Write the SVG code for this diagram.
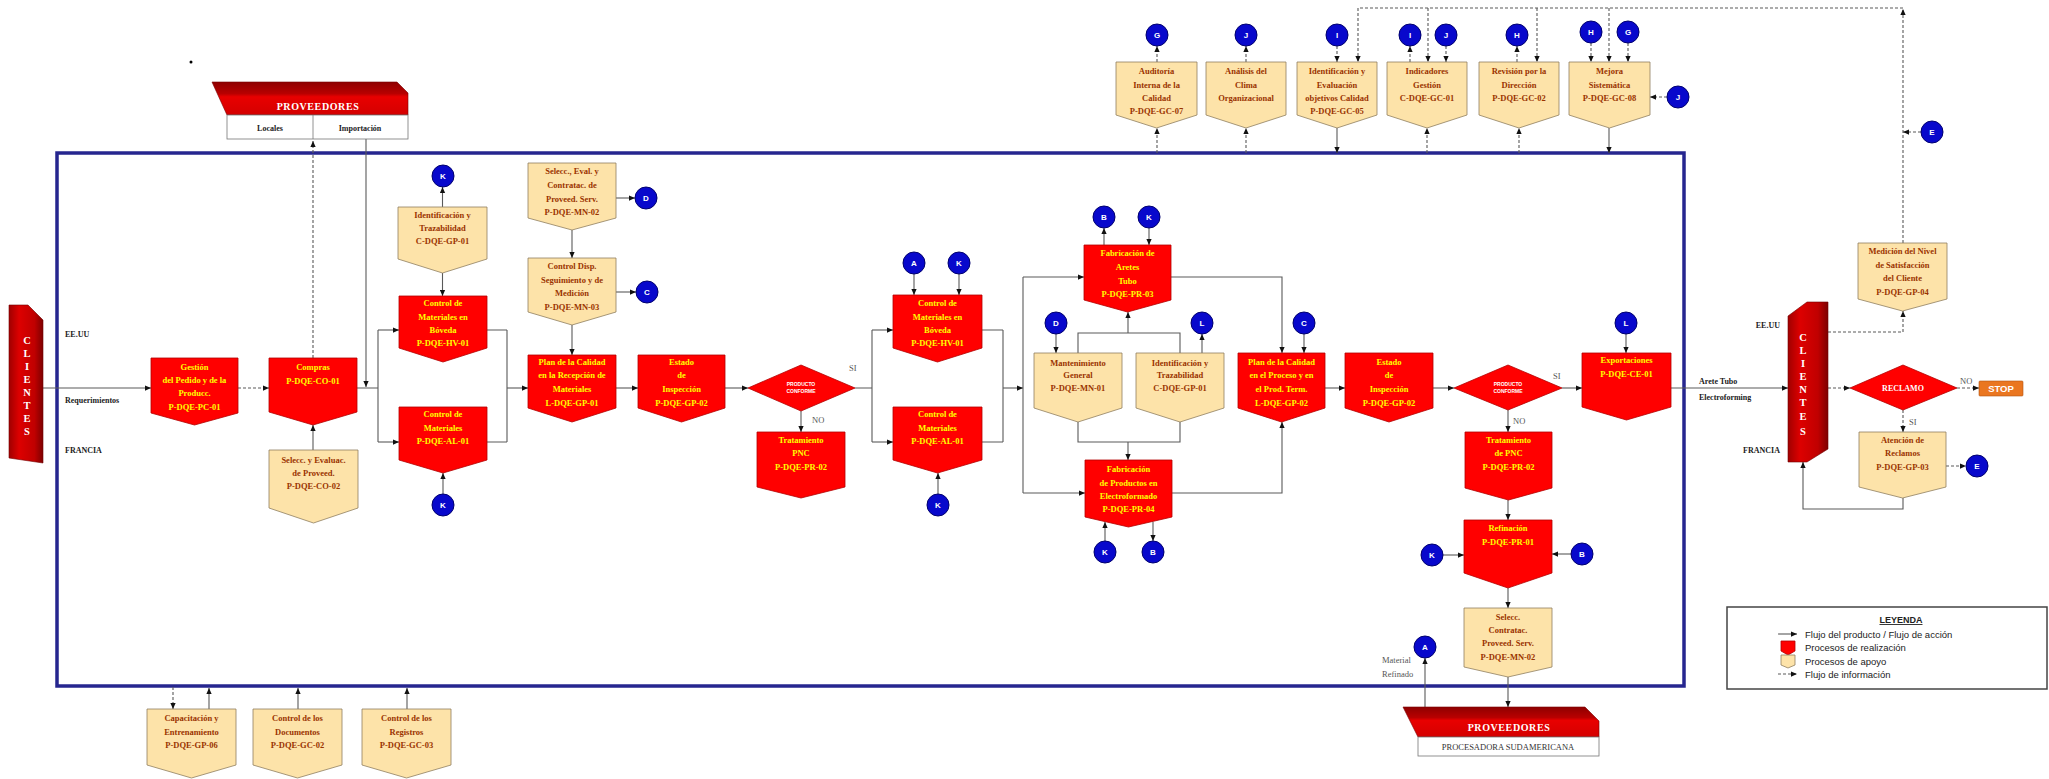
<svg xmlns="http://www.w3.org/2000/svg" width="2049" height="779" viewBox="0 0 2049 779">
  <defs>
    <style>
      .rp { fill:#ff0000; stroke:#b30000; stroke-width:0.8; }
      .sp { fill:#fde3a9; stroke:#8f7f60; stroke-width:0.8; }
      .rt { font-family:"Liberation Serif","Times New Roman",serif; font-weight:bold; font-size:8.5px; fill:#ffff00; text-anchor:middle; }
      .st { font-family:"Liberation Serif","Times New Roman",serif; font-weight:bold; font-size:8.5px; fill:#9a3300; text-anchor:middle; }
      .sm { font-family:"Liberation Sans",Arial,sans-serif; font-weight:bold; font-size:5px; fill:#ffffff; text-anchor:middle; }
      .cir { fill:#0808cc; stroke:#00006e; stroke-width:1; }
      .ct { font-family:"Liberation Sans",Arial,sans-serif; font-weight:bold; font-size:8px; fill:#ffffff; text-anchor:middle; }
      .ln { fill:none; stroke:#5a5a5a; stroke-width:1.1; }
      .dl { fill:none; stroke:#5a5a5a; stroke-width:1.1; stroke-dasharray:3 2; }
      .lb { font-family:"Liberation Serif","Times New Roman",serif; font-weight:bold; font-size:8px; fill:#222222; }
      .yn { font-family:"Liberation Serif","Times New Roman",serif; font-size:8.5px; fill:#555555; }
      .cl { font-family:"Liberation Serif","Times New Roman",serif; font-weight:bold; font-size:10.5px; fill:#ffffff; text-anchor:middle; }
      .pv { font-family:"Liberation Serif","Times New Roman",serif; font-weight:bold; font-size:10px; letter-spacing:0.6px; fill:#ffffff; text-anchor:middle; }
      .lg { font-family:"Liberation Sans",Arial,sans-serif; font-size:9.5px; fill:#222222; }
    </style>
    <marker id="ah" viewBox="0 0 8 8" refX="8" refY="4" markerWidth="6" markerHeight="6" markerUnits="userSpaceOnUse" orient="auto">
      <path d="M0,0.5 L8,4 L0,7.5Z" fill="#111111"/>
    </marker>
    <linearGradient id="provGrad" x1="0" y1="0" x2="0" y2="1">
      <stop offset="0" stop-color="#8e0000"/>
      <stop offset="0.35" stop-color="#b80000"/>
      <stop offset="0.45" stop-color="#e80000"/>
      <stop offset="1" stop-color="#d40000"/>
    </linearGradient>
    <linearGradient id="cliGrad" x1="0" y1="0" x2="1" y2="0">
      <stop offset="0" stop-color="#a00000"/>
      <stop offset="0.3" stop-color="#dd0000"/>
      <stop offset="0.75" stop-color="#c00000"/>
      <stop offset="1" stop-color="#7e0000"/>
    </linearGradient>
  </defs>

  <rect width="2049" height="779" fill="#ffffff"/>
  <circle cx="191" cy="62" r="1.5" fill="#000000"/>

  <!-- process boundary -->
  <rect id="frame" x="57" y="153" width="1627" height="533" fill="none" stroke="#26268f" stroke-width="3.5"/>

  <!-- connectors -->
  <g id="connectors">
    <!-- suppliers / purchasing -->
    <path class="dl" d="M313 358 V141" marker-end="url(#ah)"/>
    <path class="ln" d="M366 139 V387" marker-end="url(#ah)"/>
    <path class="ln" d="M43 388 H151" marker-end="url(#ah)"/>
    <path class="dl" d="M238 388 H269" marker-end="url(#ah)"/>
    <path class="ln" d="M313 450 V425" marker-end="url(#ah)"/>
    <path class="ln" d="M357 388 H378 M378 330 V442"/>
    <path class="ln" d="M378 330 H399" marker-end="url(#ah)"/>
    <path class="ln" d="M378 442 H399" marker-end="url(#ah)"/>
    <path class="ln" d="M442.5 273 V296" marker-end="url(#ah)"/>
    <path class="ln" d="M442.5 207 V187" marker-end="url(#ah)"/>
    <path class="ln" d="M443 494 V473" marker-end="url(#ah)"/>
    <path class="ln" d="M487 330 H507 M487 442 H507 M507 330 V442"/>
    <path class="ln" d="M507 388 H528" marker-end="url(#ah)"/>
    <!-- reception -->
    <path class="ln" d="M616 198 H635" marker-end="url(#ah)"/>
    <path class="ln" d="M572 230 V258" marker-end="url(#ah)"/>
    <path class="ln" d="M616 292 H636" marker-end="url(#ah)"/>
    <path class="ln" d="M572 325 V355" marker-end="url(#ah)"/>
    <path class="ln" d="M616 388 H638" marker-end="url(#ah)"/>
    <path class="ln" d="M725 388 H748" marker-end="url(#ah)"/>
    <path class="ln" d="M801 411 V432" marker-end="url(#ah)"/>
    <path class="ln" d="M855 388 H872 M872 330 V442"/>
    <path class="ln" d="M872 330 H893" marker-end="url(#ah)"/>
    <path class="ln" d="M872 442 H893" marker-end="url(#ah)"/>
    <path class="ln" d="M914 274 V295" marker-end="url(#ah)"/>
    <path class="ln" d="M959 274 V295" marker-end="url(#ah)"/>
    <path class="ln" d="M938 494 V473" marker-end="url(#ah)"/>
    <path class="ln" d="M982 330 H1003 M982 442 H1003 M1003 330 V442"/>
    <path class="ln" d="M1003 388 H1023" marker-end="url(#ah)"/>
    <!-- manufacturing -->
    <path class="ln" d="M1023 277 V493"/>
    <path class="ln" d="M1023 277 H1084" marker-end="url(#ah)"/>
    <path class="ln" d="M1023 493 H1085" marker-end="url(#ah)"/>
    <path class="ln" d="M1104 245 V228" marker-end="url(#ah)"/>
    <path class="ln" d="M1149 228 V245" marker-end="url(#ah)"/>
    <path class="ln" d="M1056 334 V353" marker-end="url(#ah)"/>
    <path class="ln" d="M1202 353 V334" marker-end="url(#ah)"/>
    <path class="ln" d="M1078 353 V333 H1180 V353"/>
    <path class="ln" d="M1128 333 V312" marker-end="url(#ah)"/>
    <path class="ln" d="M1078 422 V442 H1180 V422"/>
    <path class="ln" d="M1128 442 V460" marker-end="url(#ah)"/>
    <path class="ln" d="M1105 541 V522" marker-end="url(#ah)"/>
    <path class="ln" d="M1153 522 V541" marker-end="url(#ah)"/>
    <path class="ln" d="M1171 277 H1282 V353" marker-end="url(#ah)"/>
    <path class="ln" d="M1172 493 H1282 V422" marker-end="url(#ah)"/>
    <path class="ln" d="M1304 334 V353" marker-end="url(#ah)"/>
    <!-- final inspection -->
    <path class="ln" d="M1325 388 H1345" marker-end="url(#ah)"/>
    <path class="ln" d="M1433 388 H1454" marker-end="url(#ah)"/>
    <path class="ln" d="M1562 388 H1582" marker-end="url(#ah)"/>
    <path class="ln" d="M1508 410 V432" marker-end="url(#ah)"/>
    <path class="ln" d="M1508 500 V520" marker-end="url(#ah)"/>
    <path class="ln" d="M1443 555 H1464" marker-end="url(#ah)"/>
    <path class="ln" d="M1571 554 H1552" marker-end="url(#ah)"/>
    <path class="ln" d="M1508 588 V608" marker-end="url(#ah)"/>
    <path class="ln" d="M1508 677 V707" marker-end="url(#ah)"/>
    <path class="ln" d="M1425 707 V658" marker-end="url(#ah)"/>
    <path class="ln" d="M1626 334 V353" marker-end="url(#ah)"/>
    <!-- customers -->
    <path class="ln" d="M1671 388 H1788" marker-end="url(#ah)"/>
    <path class="dl" d="M1828 332 H1903 V311" marker-end="url(#ah)"/>
    <path class="dl" d="M1828 388 H1850" marker-end="url(#ah)"/>
    <path class="dl" d="M1957 388 H1979" marker-end="url(#ah)"/>
    <path class="dl" d="M1903 410 V432" marker-end="url(#ah)"/>
    <path class="dl" d="M1946 466 H1966" marker-end="url(#ah)"/>
    <path class="ln" d="M1903 498 V509 H1803 V462" marker-end="url(#ah)"/>
    <!-- information flow to management -->
    <path class="dl" d="M1903 243 V9" marker-end="url(#ah)"/>
    <path class="dl" d="M1903 8 H1358"/>
    <path class="dl" d="M1921 132 H1903" marker-end="url(#ah)"/>
    <path class="dl" d="M1358 8 V62" marker-end="url(#ah)"/>
    <path class="dl" d="M1428 8 V62" marker-end="url(#ah)"/>
    <path class="dl" d="M1537 8 V62" marker-end="url(#ah)"/>
    <path class="dl" d="M1609 8 V62" marker-end="url(#ah)"/>
    <path class="dl" d="M1157 62 V46" marker-end="url(#ah)"/>
    <path class="dl" d="M1157 153 V128" marker-end="url(#ah)"/>
    <path class="dl" d="M1246 62 V46" marker-end="url(#ah)"/>
    <path class="dl" d="M1246 153 V128" marker-end="url(#ah)"/>
    <path class="dl" d="M1337 46 V62" marker-end="url(#ah)"/>
    <path class="ln" d="M1337 128 V153" marker-end="url(#ah)"/>
    <path class="dl" d="M1410 62 V46" marker-end="url(#ah)"/>
    <path class="dl" d="M1446 46 V62" marker-end="url(#ah)"/>
    <path class="dl" d="M1427 153 V128" marker-end="url(#ah)"/>
    <path class="dl" d="M1517 62 V46" marker-end="url(#ah)"/>
    <path class="dl" d="M1519 153 V128" marker-end="url(#ah)"/>
    <path class="dl" d="M1591 43 V62" marker-end="url(#ah)"/>
    <path class="dl" d="M1628 43 V62" marker-end="url(#ah)"/>
    <path class="dl" d="M1667 97 H1650" marker-end="url(#ah)"/>
    <path class="ln" d="M1609 128 V153" marker-end="url(#ah)"/>
    <!-- bottom support -->
    <path class="dl" d="M173 687 V709" marker-end="url(#ah)"/>
    <path class="ln" d="M209 709 V688" marker-end="url(#ah)"/>
    <path class="ln" d="M298 709 V688" marker-end="url(#ah)"/>
    <path class="ln" d="M407 709 V688" marker-end="url(#ah)"/>
  </g>

  <!-- flow labels -->
  <g id="flow-labels">
    <text class="yn" x="849" y="371">SI</text>
    <text class="yn" x="812" y="423">NO</text>
    <text class="yn" x="1553" y="379">SI</text>
    <text class="yn" x="1513" y="424">NO</text>
    <text class="yn" x="1960" y="384">NO</text>
    <text class="yn" x="1909" y="425">SI</text>
    <text class="lb" x="65" y="337">EE.UU</text>
    <text class="lb" x="65" y="403">Requerimientos</text>
    <text class="lb" x="65" y="453">FRANCIA</text>
    <text class="lb" x="1780" y="328" text-anchor="end">EE.UU</text>
    <text class="lb" x="1780" y="453" text-anchor="end">FRANCIA</text>
    <text class="lb" x="1699" y="384" font-size="8.5">Arete Tubo</text>
    <text class="lb" x="1699" y="400" font-size="8.5">Electroforming</text>
    <text class="yn" x="1382" y="663" font-size="8">Material</text>
    <text class="yn" x="1382" y="677" font-size="8">Refinado</text>
  </g>

  <!-- suppliers (top) -->
  <g id="proveedores-top">
    <polygon points="212,82 397,82 408,93 408,115 227,115" fill="url(#provGrad)" stroke="#7a0000" stroke-width="0.6"/>
    <text class="pv" x="318" y="110">PROVEEDORES</text>
    <rect x="227" y="115" width="181" height="24" fill="#ffffff" stroke="#777777" stroke-width="0.8"/>
    <line x1="313" y1="115" x2="313" y2="139" stroke="#777777" stroke-width="0.8"/>
    <text class="lb" x="270" y="131" text-anchor="middle">Locales</text>
    <text class="lb" x="360" y="131" text-anchor="middle">Importación</text>
  </g>

  <!-- suppliers (bottom) -->
  <g id="proveedores-bottom">
    <polygon points="1403,707 1585,707 1599,721 1599,737 1418,737" fill="url(#provGrad)" stroke="#7a0000" stroke-width="0.6"/>
    <text class="pv" x="1509" y="731">PROVEEDORES</text>
    <rect x="1418" y="737" width="181" height="19" fill="#ffffff" stroke="#777777" stroke-width="0.8"/>
    <text x="1508" y="750" text-anchor="middle" font-family="Liberation Serif,serif" font-size="8.5" fill="#333333">PROCESADORA SUDAMERICANA</text>
  </g>

  <!-- customers -->
  <g id="clientes-left">
    <polygon points="9,305 28,305 43,320 43,463 9,458" fill="url(#cliGrad)" stroke="#700000" stroke-width="0.6"/>
    <text class="cl" x="27" y="344">C</text>
    <text class="cl" x="27" y="357">L</text>
    <text class="cl" x="27" y="370">I</text>
    <text class="cl" x="27" y="383">E</text>
    <text class="cl" x="27" y="396">N</text>
    <text class="cl" x="27" y="409">T</text>
    <text class="cl" x="27" y="422">E</text>
    <text class="cl" x="27" y="435">S</text>
  </g>
  <g id="clientes-right">
    <polygon points="1788,316 1807,302 1828,302 1828,449 1807,462 1788,462" fill="url(#cliGrad)" stroke="#700000" stroke-width="0.6"/>
    <text class="cl" x="1803" y="341">C</text>
    <text class="cl" x="1803" y="354">L</text>
    <text class="cl" x="1803" y="367">I</text>
    <text class="cl" x="1803" y="380">E</text>
    <text class="cl" x="1803" y="393">N</text>
    <text class="cl" x="1803" y="406">T</text>
    <text class="cl" x="1803" y="420">E</text>
    <text class="cl" x="1803" y="435">S</text>
  </g>

  <!-- realization processes -->
  <g id="gestion-pedido">
    <path class="rp" d="M151 358 H238 V413 L194.5 425 L151 413Z"/>
    <text class="rt" x="194.5" y="370">Gestión</text>
    <text class="rt" x="194.5" y="383">del Pedido y de la</text>
    <text class="rt" x="194.5" y="396">Producc.</text>
    <text class="rt" x="194.5" y="410">P-DQE-PC-01</text>
  </g>
  <g id="compras">
    <path class="rp" d="M269 358 H357 V412 L313 425 L269 412Z"/>
    <text class="rt" x="313" y="370">Compras</text>
    <text class="rt" x="313" y="384">P-DQE-CO-01</text>
  </g>
  <g id="control-boveda-1">
    <path class="rp" d="M399 296 H487 V348 L443 362 L399 348Z"/>
    <text class="rt" x="443" y="306">Control de</text>
    <text class="rt" x="443" y="320">Materiales en</text>
    <text class="rt" x="443" y="333">Bóveda</text>
    <text class="rt" x="443" y="346">P-DQE-HV-01</text>
  </g>
  <g id="control-almacen-1">
    <path class="rp" d="M399 407 H487 V460 L443 473 L399 460Z"/>
    <text class="rt" x="443" y="417">Control de</text>
    <text class="rt" x="443" y="431">Materiales</text>
    <text class="rt" x="443" y="444">P-DQE-AL-01</text>
  </g>
  <g id="plan-recepcion">
    <path class="rp" d="M528 355 H616 V408 L572 422 L528 408Z"/>
    <text class="rt" x="572" y="365">Plan de la Calidad</text>
    <text class="rt" x="572" y="378">en la Recepción de</text>
    <text class="rt" x="572" y="392">Materiales</text>
    <text class="rt" x="572" y="406">L-DQE-GP-01</text>
  </g>
  <g id="estado-inspeccion-1">
    <path class="rp" d="M638 355 H725 V408 L681.5 422 L638 408Z"/>
    <text class="rt" x="681.5" y="365">Estado</text>
    <text class="rt" x="681.5" y="378">de</text>
    <text class="rt" x="681.5" y="392">Inspección</text>
    <text class="rt" x="681.5" y="406">P-DQE-GP-02</text>
  </g>
  <g id="producto-conforme-1">
    <path class="rp" d="M748 388 L801 365 L855 388 L801 411Z"/>
    <text class="sm" x="801" y="386">PRODUCTO</text>
    <text class="sm" x="801" y="393">CONFORME</text>
  </g>
  <g id="tratamiento-pnc-1">
    <path class="rp" d="M757 432 H845 V487 L801 498 L757 487Z"/>
    <text class="rt" x="801" y="443">Tratamiento</text>
    <text class="rt" x="801" y="456">PNC</text>
    <text class="rt" x="801" y="470">P-DQE-PR-02</text>
  </g>
  <g id="control-boveda-2">
    <path class="rp" d="M893 295 H982 V348 L937.5 362 L893 348Z"/>
    <text class="rt" x="937.5" y="306">Control de</text>
    <text class="rt" x="937.5" y="320">Materiales en</text>
    <text class="rt" x="937.5" y="333">Bóveda</text>
    <text class="rt" x="937.5" y="346">P-DQE-HV-01</text>
  </g>
  <g id="control-almacen-2">
    <path class="rp" d="M893 407 H982 V460 L937.5 473 L893 460Z"/>
    <text class="rt" x="937.5" y="417">Control de</text>
    <text class="rt" x="937.5" y="431">Materiales</text>
    <text class="rt" x="937.5" y="444">P-DQE-AL-01</text>
  </g>
  <g id="fabricacion-aretes">
    <path class="rp" d="M1084 245 H1171 V300 L1127.5 312 L1084 300Z"/>
    <text class="rt" x="1127.5" y="256">Fabricación de</text>
    <text class="rt" x="1127.5" y="270">Aretes</text>
    <text class="rt" x="1127.5" y="284">Tubo</text>
    <text class="rt" x="1127.5" y="297">P-DQE-PR-03</text>
  </g>
  <g id="fabricacion-electroformado">
    <path class="rp" d="M1085 460 H1172 V517 L1128.5 527 L1085 517Z"/>
    <text class="rt" x="1128.5" y="472">Fabricación</text>
    <text class="rt" x="1128.5" y="486">de Productos en</text>
    <text class="rt" x="1128.5" y="499">Electroformado</text>
    <text class="rt" x="1128.5" y="512">P-DQE-PR-04</text>
  </g>
  <g id="plan-proceso">
    <path class="rp" d="M1238 353 H1325 V408 L1281.5 422 L1238 408Z"/>
    <text class="rt" x="1281.5" y="365">Plan de la Calidad</text>
    <text class="rt" x="1281.5" y="378">en el Proceso y en</text>
    <text class="rt" x="1281.5" y="392">el Prod. Term.</text>
    <text class="rt" x="1281.5" y="406">L-DQE-GP-02</text>
  </g>
  <g id="estado-inspeccion-2">
    <path class="rp" d="M1345 353 H1433 V408 L1389 422 L1345 408Z"/>
    <text class="rt" x="1389" y="365">Estado</text>
    <text class="rt" x="1389" y="378">de</text>
    <text class="rt" x="1389" y="392">Inspección</text>
    <text class="rt" x="1389" y="406">P-DQE-GP-02</text>
  </g>
  <g id="producto-conforme-2">
    <path class="rp" d="M1454 388 L1508 365 L1562 388 L1508 410Z"/>
    <text class="sm" x="1508" y="386">PRODUCTO</text>
    <text class="sm" x="1508" y="393">CONFORME</text>
  </g>
  <g id="tratamiento-pnc-2">
    <path class="rp" d="M1465 432 H1552 V488 L1508.5 500 L1465 488Z"/>
    <text class="rt" x="1508.5" y="443">Tratamiento</text>
    <text class="rt" x="1508.5" y="456">de PNC</text>
    <text class="rt" x="1508.5" y="470">P-DQE-PR-02</text>
  </g>
  <g id="refinacion">
    <path class="rp" d="M1464 520 H1552 V573 L1508 588 L1464 573Z"/>
    <text class="rt" x="1508" y="531">Refinación</text>
    <text class="rt" x="1508" y="545">P-DQE-PR-01</text>
  </g>
  <g id="exportaciones">
    <path class="rp" d="M1582 353 H1671 V407 L1626.5 420 L1582 407Z"/>
    <text class="rt" x="1626.5" y="363">Exportaciones</text>
    <text class="rt" x="1626.5" y="377">P-DQE-CE-01</text>
  </g>
  <g id="reclamo">
    <path class="rp" d="M1850 388 L1903 365 L1957 388 L1903 410Z"/>
    <text x="1903" y="391" text-anchor="middle" font-family="Liberation Serif,serif" font-weight="bold" font-size="8" fill="#ffffff">RECLAMO</text>
  </g>
  <g id="stop">
    <rect x="1979" y="381" width="44" height="15" rx="1" fill="#ea7620" stroke="#b35410" stroke-width="0.6"/>
    <text x="2001" y="392" text-anchor="middle" font-family="Liberation Sans,Arial,sans-serif" font-weight="bold" font-size="9.5" fill="#ffffff">STOP</text>
  </g>

  <!-- support processes -->
  <g id="identificacion-trazabilidad-1">
    <path class="sp" d="M398 207 H487 V259 L442.5 273 L398 259Z"/>
    <text class="st" x="442.5" y="218">Identificación y</text>
    <text class="st" x="442.5" y="231">Trazabilidad</text>
    <text class="st" x="442.5" y="244">C-DQE-GP-01</text>
  </g>
  <g id="seleccion-proveedores">
    <path class="sp" d="M269 450 H358 V508 L313.5 523 L269 508Z"/>
    <text class="st" x="313.5" y="463">Selecc. y Evaluac.</text>
    <text class="st" x="313.5" y="476">de Proveed.</text>
    <text class="st" x="313.5" y="489">P-DQE-CO-02</text>
  </g>
  <g id="seleccion-servicios-1">
    <path class="sp" d="M528 163 H616 V218 L572 230 L528 218Z"/>
    <text class="st" x="572" y="174">Selecc., Eval. y</text>
    <text class="st" x="572" y="188">Contratac. de</text>
    <text class="st" x="572" y="202">Proveed. Serv.</text>
    <text class="st" x="572" y="215">P-DQE-MN-02</text>
  </g>
  <g id="control-dispositivos">
    <path class="sp" d="M528 258 H616 V312 L572 325 L528 312Z"/>
    <text class="st" x="572" y="269">Control Disp.</text>
    <text class="st" x="572" y="283">Seguimiento y de</text>
    <text class="st" x="572" y="296">Medición</text>
    <text class="st" x="572" y="310">P-DQE-MN-03</text>
  </g>
  <g id="mantenimiento">
    <path class="sp" d="M1034 353 H1122 V408 L1078 422 L1034 408Z"/>
    <text class="st" x="1078" y="366">Mantenimiento</text>
    <text class="st" x="1078" y="378">General</text>
    <text class="st" x="1078" y="391">P-DQE-MN-01</text>
  </g>
  <g id="identificacion-trazabilidad-2">
    <path class="sp" d="M1136 353 H1224 V408 L1180 422 L1136 408Z"/>
    <text class="st" x="1180" y="366">Identificación y</text>
    <text class="st" x="1180" y="378">Trazabilidad</text>
    <text class="st" x="1180" y="391">C-DQE-GP-01</text>
  </g>
  <g id="auditoria">
    <path class="sp" d="M1116 62 H1197 V115 L1156.5 128 L1116 115Z"/>
    <text class="st" x="1156.5" y="74">Auditoría</text>
    <text class="st" x="1156.5" y="88">Interna de la</text>
    <text class="st" x="1156.5" y="101">Calidad</text>
    <text class="st" x="1156.5" y="114">P-DQE-GC-07</text>
  </g>
  <g id="clima">
    <path class="sp" d="M1206 62 H1286 V115 L1246 128 L1206 115Z"/>
    <text class="st" x="1246" y="74">Análisis del</text>
    <text class="st" x="1246" y="88">Clima</text>
    <text class="st" x="1246" y="101">Organizacional</text>
  </g>
  <g id="objetivos">
    <path class="sp" d="M1297 62 H1377 V115 L1337 128 L1297 115Z"/>
    <text class="st" x="1337" y="74">Identificación y</text>
    <text class="st" x="1337" y="88">Evaluación</text>
    <text class="st" x="1337" y="101">objetivos Calidad</text>
    <text class="st" x="1337" y="114">P-DQE-GC-05</text>
  </g>
  <g id="indicadores">
    <path class="sp" d="M1387 62 H1467 V115 L1427 128 L1387 115Z"/>
    <text class="st" x="1427" y="74">Indicadores</text>
    <text class="st" x="1427" y="88">Gestión</text>
    <text class="st" x="1427" y="101">C-DQE-GC-01</text>
  </g>
  <g id="revision">
    <path class="sp" d="M1479 62 H1559 V115 L1519 128 L1479 115Z"/>
    <text class="st" x="1519" y="74">Revisión por la</text>
    <text class="st" x="1519" y="88">Dirección</text>
    <text class="st" x="1519" y="101">P-DQE-GC-02</text>
  </g>
  <g id="mejora">
    <path class="sp" d="M1569 62 H1650 V115 L1609.5 128 L1569 115Z"/>
    <text class="st" x="1609.5" y="74">Mejora</text>
    <text class="st" x="1609.5" y="88">Sistemática</text>
    <text class="st" x="1609.5" y="101">P-DQE-GC-08</text>
  </g>
  <g id="medicion-satisfaccion">
    <path class="sp" d="M1858 243 H1947 V299 L1902.5 311 L1858 299Z"/>
    <text class="st" x="1902.5" y="254">Medición del Nivel</text>
    <text class="st" x="1902.5" y="268">de Satisfacción</text>
    <text class="st" x="1902.5" y="281">del Cliente</text>
    <text class="st" x="1902.5" y="295">P-DQE-GP-04</text>
  </g>
  <g id="atencion-reclamos">
    <path class="sp" d="M1859 432 H1946 V487 L1902.5 498 L1859 487Z"/>
    <text class="st" x="1902.5" y="443">Atención de</text>
    <text class="st" x="1902.5" y="456">Reclamos</text>
    <text class="st" x="1902.5" y="470">P-DQE-GP-03</text>
  </g>
  <g id="seleccion-servicios-2">
    <path class="sp" d="M1464 608 H1552 V667 L1508 677 L1464 667Z"/>
    <text class="st" x="1508" y="620">Selecc.</text>
    <text class="st" x="1508" y="633">Contratac.</text>
    <text class="st" x="1508" y="646">Proveed. Serv.</text>
    <text class="st" x="1508" y="660">P-DQE-MN-02</text>
  </g>
  <g id="capacitacion">
    <path class="sp" d="M147 709 H236 V765 L191.5 778 L147 765Z"/>
    <text class="st" x="191.5" y="721">Capacitación y</text>
    <text class="st" x="191.5" y="735">Entrenamiento</text>
    <text class="st" x="191.5" y="748">P-DQE-GP-06</text>
  </g>
  <g id="control-documentos">
    <path class="sp" d="M253 709 H342 V765 L297.5 778 L253 765Z"/>
    <text class="st" x="297.5" y="721">Control de los</text>
    <text class="st" x="297.5" y="735">Documentos</text>
    <text class="st" x="297.5" y="748">P-DQE-GC-02</text>
  </g>
  <g id="control-registros">
    <path class="sp" d="M362 709 H451 V765 L406.5 778 L362 765Z"/>
    <text class="st" x="406.5" y="721">Control de los</text>
    <text class="st" x="406.5" y="735">Registros</text>
    <text class="st" x="406.5" y="748">P-DQE-GC-03</text>
  </g>

  <!-- off-page references -->
  <g id="ref-k1"><circle class="cir" cx="443" cy="176" r="11"/><text class="ct" x="443" y="179">K</text></g>
  <g id="ref-k2"><circle class="cir" cx="443" cy="505" r="11"/><text class="ct" x="443" y="508">K</text></g>
  <g id="ref-d1"><circle class="cir" cx="646" cy="198" r="11"/><text class="ct" x="646" y="201">D</text></g>
  <g id="ref-c1"><circle class="cir" cx="647" cy="292" r="11"/><text class="ct" x="647" y="295">C</text></g>
  <g id="ref-a1"><circle class="cir" cx="914" cy="263" r="11"/><text class="ct" x="914" y="266">A</text></g>
  <g id="ref-k3"><circle class="cir" cx="959" cy="263" r="11"/><text class="ct" x="959" y="266">K</text></g>
  <g id="ref-k4"><circle class="cir" cx="938" cy="505" r="11"/><text class="ct" x="938" y="508">K</text></g>
  <g id="ref-b1"><circle class="cir" cx="1104" cy="217" r="11"/><text class="ct" x="1104" y="220">B</text></g>
  <g id="ref-k5"><circle class="cir" cx="1149" cy="217" r="11"/><text class="ct" x="1149" y="220">K</text></g>
  <g id="ref-d2"><circle class="cir" cx="1056" cy="323" r="11"/><text class="ct" x="1056" y="326">D</text></g>
  <g id="ref-l1"><circle class="cir" cx="1202" cy="323" r="11"/><text class="ct" x="1202" y="326">L</text></g>
  <g id="ref-c2"><circle class="cir" cx="1304" cy="323" r="11"/><text class="ct" x="1304" y="326">C</text></g>
  <g id="ref-k6"><circle class="cir" cx="1105" cy="552" r="11"/><text class="ct" x="1105" y="555">K</text></g>
  <g id="ref-b2"><circle class="cir" cx="1153" cy="552" r="11"/><text class="ct" x="1153" y="555">B</text></g>
  <g id="ref-l2"><circle class="cir" cx="1626" cy="323" r="11"/><text class="ct" x="1626" y="326">L</text></g>
  <g id="ref-k7"><circle class="cir" cx="1432" cy="555" r="11"/><text class="ct" x="1432" y="558">K</text></g>
  <g id="ref-b3"><circle class="cir" cx="1582" cy="554" r="11"/><text class="ct" x="1582" y="557">B</text></g>
  <g id="ref-a2"><circle class="cir" cx="1425" cy="647" r="11"/><text class="ct" x="1425" y="650">A</text></g>
  <g id="ref-e1"><circle class="cir" cx="1977" cy="466" r="11"/><text class="ct" x="1977" y="469">E</text></g>
  <g id="ref-g1"><circle class="cir" cx="1157" cy="35" r="11"/><text class="ct" x="1157" y="38">G</text></g>
  <g id="ref-j1"><circle class="cir" cx="1246" cy="35" r="11"/><text class="ct" x="1246" y="38">J</text></g>
  <g id="ref-i1"><circle class="cir" cx="1337" cy="35" r="11"/><text class="ct" x="1337" y="38">I</text></g>
  <g id="ref-i2"><circle class="cir" cx="1410" cy="35" r="11"/><text class="ct" x="1410" y="38">I</text></g>
  <g id="ref-j2"><circle class="cir" cx="1446" cy="35" r="11"/><text class="ct" x="1446" y="38">J</text></g>
  <g id="ref-h1"><circle class="cir" cx="1517" cy="35" r="11"/><text class="ct" x="1517" y="38">H</text></g>
  <g id="ref-h2"><circle class="cir" cx="1591" cy="32" r="11"/><text class="ct" x="1591" y="35">H</text></g>
  <g id="ref-g2"><circle class="cir" cx="1628" cy="32" r="11"/><text class="ct" x="1628" y="35">G</text></g>
  <g id="ref-j3"><circle class="cir" cx="1678" cy="97" r="11"/><text class="ct" x="1678" y="100">J</text></g>
  <g id="ref-e2"><circle class="cir" cx="1932" cy="132" r="11"/><text class="ct" x="1932" y="135">E</text></g>

  <!-- legend -->
  <g id="legend">
    <rect x="1727" y="607" width="320" height="82" fill="#ffffff" stroke="#444444" stroke-width="1.5"/>
    <text x="1901" y="623" text-anchor="middle" font-family="Liberation Sans,Arial,sans-serif" font-weight="bold" font-size="9" fill="#222222" text-decoration="underline">LEYENDA</text>
    <path class="ln" d="M1778 634 H1797" stroke="#111111" marker-end="url(#ah)"/>
    <text class="lg" x="1805" y="637.5">Flujo del producto / Flujo de acción</text>
    <path class="rp" d="M1781 641 H1795 V651 L1788 655 L1781 651Z"/>
    <text class="lg" x="1805" y="651">Procesos de realización</text>
    <path class="sp" d="M1781 655 H1795 V665 L1788 668 L1781 665Z"/>
    <text class="lg" x="1805" y="664.5">Procesos de apoyo</text>
    <path class="dl" d="M1778 674 H1797" stroke="#111111" marker-end="url(#ah)"/>
    <text class="lg" x="1805" y="677.5">Flujo de información</text>
  </g>
</svg>
